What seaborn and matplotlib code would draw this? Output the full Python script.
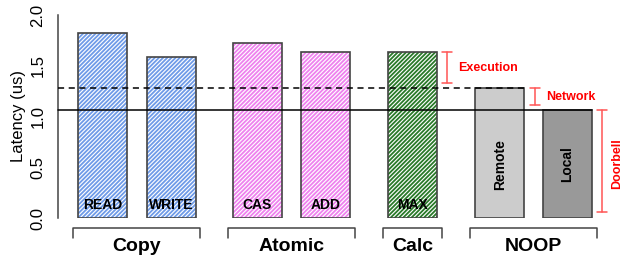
import numpy as np
import pandas as pd
import matplotlib
matplotlib.use('Agg')
import matplotlib.pyplot as plt
import seaborn as sns

# bar data
ops = ['READ', 'WRITE', 'CAS', 'ADD', 'MAX', 'Remote', 'Local']
latency = [1.82, 1.59, 1.72, 1.64, 1.64, 1.28, 1.06]
groups = ['Copy', 'Atomic', 'Calc', 'NOOP']
group_members = [['READ', 'WRITE'], ['CAS', 'ADD'], ['MAX'], ['Remote', 'Local']]

# layout: bar centres (in bar widths), R-style spacing
x_pos = [0, 1.4, 3.16, 4.56, 6.33, 8.11, 9.49]

hatch_colors = {'READ': '#6f9be8', 'WRITE': '#6f9be8', 'CAS': '#ee82ee',
                'ADD': '#ee82ee', 'MAX': '#2a7a2a'}
fill_colors = {'Remote': '#cccccc', 'Local': '#999999'}

sns.set_style('white')
plt.rcParams['font.family'] = ['Liberation Sans', 'DejaVu Sans']
plt.rcParams['text.color'] = 'black'
plt.rcParams['axes.labelcolor'] = 'black'
plt.rcParams['ytick.color'] = 'black'
plt.rcParams['hatch.linewidth'] = 1.3

df = pd.DataFrame({'op': ops, 'latency': latency, 'x': x_pos})

fig = plt.figure(figsize=(6.29, 2.58), dpi=100)
ax = fig.add_axes([58 / 629, 40 / 258, 571 / 629, 203 / 258])

palette = {op: fill_colors.get(op, 'white') for op in ops}
sns.barplot(data=df, x='x', y='latency', hue='op', palette=palette,
            native_scale=True, dodge=False, legend=False, ax=ax)
# outlines on top
sns.barplot(data=df, x='x', y='latency', native_scale=True, fill=False,
            color='#444444', ax=ax)

n = len(ops)
for i, p in enumerate(ax.patches):
    c = p.get_x() + p.get_width() / 2
    k = int(np.argmin([abs(c - xp) for xp in x_pos]))
    p.set_x(x_pos[k] - 0.5)
    p.set_width(1.0)
    if i < n:
        op = ops[k]
        if op in hatch_colors:
            p.set_facecolor('white')
            p.set_edgecolor(hatch_colors[op])
            p.set_hatch('/' * 8)
            p.set_linewidth(0)
        else:
            p.set_edgecolor('none')
            p.set_linewidth(0)
    else:
        p.set_linewidth(1.2)
        p.set_zorder(3)

xmin, xmax = -0.908, 10.745
ax.set_xlim(xmin, xmax)
ax.set_ylim(0, 2)

# reference levels: remote and local no-op
remote_lat = latency[ops.index('Remote')]
local_lat = latency[ops.index('Local')]
ax.plot([xmin, x_pos[ops.index('Remote')] + 0.5], [remote_lat, remote_lat],
        color='black', lw=1.1, ls=(0, (4, 3)), zorder=4, clip_on=False)
ax.plot([xmin, x_pos[ops.index('Local')] + 0.5], [local_lat, local_lat],
        color='black', lw=1.1, zorder=4, clip_on=False)

# labels in bars
for op, xp in zip(ops, x_pos):
    if op in ('Remote', 'Local'):
        ax.text(xp, 0.53, op, rotation=90, ha='center', va='center',
                fontsize=10, fontweight='bold', zorder=5)
    else:
        ax.text(xp, 0.13, op, ha='center', va='center',
                fontsize=10, fontweight='bold', zorder=5)

# group brackets below axis
for g, members in zip(groups, group_members):
    xs = [x_pos[ops.index(m)] for m in members]
    x0, x1 = min(xs) - 0.6, max(xs) + 0.6
    ax.plot([x0, x0, x1, x1], [-0.2, -0.1, -0.1, -0.2], color='#444444',
            lw=1.1, clip_on=False)
    ax.text((x0 + x1) / 2, -0.28, g, ha='center', va='center',
            fontsize=14, fontweight='bold', clip_on=False)

# red breakdown brackets
red_line = '#ff5555'
red_text = '#ff0000'
def red_bracket(x, y0, y1):
    cap = 0.1
    ax.plot([x, x], [y0, y1], color=red_line, lw=1.1, clip_on=False)
    ax.plot([x - cap, x + cap], [y0, y0], color=red_line, lw=1.1, clip_on=False)
    ax.plot([x - cap, x + cap], [y1, y1], color=red_line, lw=1.1, clip_on=False)

red_bracket(7.03, 1.33, 1.64)
ax.text(7.26, 1.48, 'Execution', color=red_text, fontsize=9,
        fontweight='bold', ha='left', va='center')
red_bracket(8.83, 1.11, 1.28)
ax.text(9.05, 1.19, 'Network', color=red_text, fontsize=9,
        fontweight='bold', ha='left', va='center')
red_bracket(10.19, 0.06, 1.06)
ax.text(10.5, 0.54, 'Doorbell', color=red_text, fontsize=9,
        fontweight='bold', ha='center', va='center', rotation=90,
        clip_on=False)

# R-style axis
for s in ['top', 'right', 'bottom']:
    ax.spines[s].set_visible(False)
ax.spines['left'].set_bounds(0, 2)
ax.spines['left'].set_color('#444444')
ax.spines['left'].set_linewidth(1.1)
ax.set_xticks([])
ax.set_yticks([0, 0.5, 1.0, 1.5, 2.0])
ax.set_yticklabels(['0.0', '0.5', '1.0', '1.5', '2.0'])
ax.tick_params(axis='y', length=6, width=1.1, color='#444444',
               labelsize=12, rotation=90, pad=3)
for lab in ax.get_yticklabels():
    lab.set_va('center')
ax.set_xlabel('')
ax.set_ylabel('Latency (us)', fontsize=12, labelpad=3)

fig.savefig('out.png', dpi=100)
